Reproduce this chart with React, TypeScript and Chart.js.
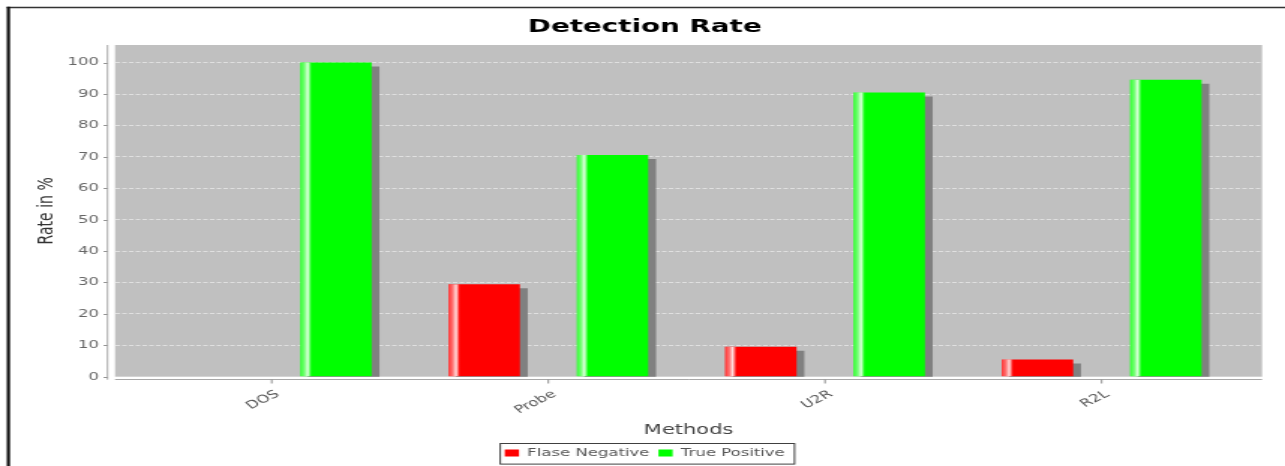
import React, { useEffect, useRef } from "react";
import { Chart, registerables } from "chart.js";

Chart.register(...registerables);

// ---- data ----
const categories = ["DOS", "Probe", "U2R", "R2L"];
const falseNegative = [0, 29.4, 9.5, 5.5];
const truePositive = [100, 70.6, 90.5, 94.5];
const yTicks = [0, 10, 20, 30, 40, 50, 60, 70, 80, 90, 100];
const seriesNames = ["Flase Negative", "True Positive"];
const seriesColors = ["#ff0000", "#00ff00"];

// ---- geometry (internal canvas px; canvas is stretched horizontally on screen) ----
const SCREEN_W = 1285;
const W = 857;
const H = 466;
const FONT = "DejaVu Sans";

const decorPlugin = {
  id: "decor",
  beforeDraw(chart: any) {
    const { ctx, chartArea: a } = chart;
    ctx.save();
    ctx.fillStyle = "#c0c0c0";
    ctx.fillRect(a.left, a.top, a.right - a.left, a.bottom - a.top);
    ctx.restore();
  },
  beforeDatasetDraw(chart: any) {
    const ctx = chart.ctx;
    ctx.save();
    ctx.shadowColor = "#808080";
    ctx.shadowOffsetX = 5.2;
    ctx.shadowOffsetY = 4;
    ctx.shadowBlur = 0;
  },
  afterDatasetDraw(chart: any, args: any) {
    const ctx = chart.ctx;
    ctx.restore();
    const a = chart.chartArea;
    ctx.save();
    ctx.beginPath();
    ctx.rect(a.left, a.top, a.right - a.left, a.bottom - a.top);
    ctx.clip();
    for (const el of args.meta.data) {
      const p = el.getProps(["x", "y", "base", "width"], true);
      const top = Math.min(p.y, p.base);
      const h = Math.abs(p.base - p.y);
      if (h < 0.5) continue;
      const left = p.x - p.width / 2;
      const sw = p.width * 0.2;
      const g = ctx.createLinearGradient(left, 0, left + sw, 0);
      g.addColorStop(0, "rgba(255,255,255,0.2)");
      g.addColorStop(0.3, "rgba(255,255,255,0.45)");
      g.addColorStop(0.53, "rgba(255,255,255,0.88)");
      g.addColorStop(0.8, "rgba(255,255,255,0)");
      g.addColorStop(1, "rgba(255,255,255,0)");
      ctx.fillStyle = g;
      ctx.fillRect(left, top, sw, h);
    }
    ctx.restore();
  },
  afterDraw(chart: any) {
    const { ctx, chartArea: a } = chart;
    const yScale = chart.scales.y;
    const xScale = chart.scales.x;
    ctx.save();
    // axis lines
    ctx.strokeStyle = "#a8a8a8";
    ctx.lineWidth = 1;
    const axX = 71.7;
    const axY = 379.5;
    ctx.beginPath();
    ctx.moveTo(axX, a.top);
    ctx.lineTo(axX, a.bottom + 3);
    ctx.moveTo(a.left, axY);
    ctx.lineTo(a.right, axY);
    ctx.stroke();
    // y tick marks
    ctx.strokeStyle = "#909090";
    ctx.beginPath();
    for (const v of yTicks) {
      const py = Math.round(yScale.getPixelForValue(v)) + 0.5;
      ctx.moveTo(axX - 2.6, py);
      ctx.lineTo(axX, py);
    }
    // x tick marks
    categories.forEach((_, i) => {
      const px = xScale.getPixelForValue(i);
      ctx.moveTo(px, axY);
      ctx.lineTo(px, axY + 4);
    });
    ctx.stroke();

    // legend border
    const hb = chart.legend && chart.legend.legendHitBoxes;
    if (hb && hb.length) {
      let l = Infinity, r = -Infinity, t = Infinity, b = -Infinity;
      for (const h of hb) {
        l = Math.min(l, h.left);
        r = Math.max(r, h.left + h.width);
        t = Math.min(t, h.top);
        b = Math.max(b, h.top + h.height);
      }
      const cy = (t + b) / 2;
      ctx.strokeStyle = "#404040";
      ctx.lineWidth = 1;
      ctx.strokeRect(l - 3, Math.round(cy - 10.3) + 0.5, r - l + 9.5, 20.6);
    }

    // outer frame (top and left)
    ctx.strokeStyle = "#333333";
    ctx.lineWidth = 1.5;
    ctx.beginPath();
    ctx.moveTo(4.5, 7.5);
    ctx.lineTo(W, 7.5);
    ctx.stroke();
    ctx.strokeStyle = "#111111";
    ctx.lineWidth = 2.2;
    ctx.beginPath();
    ctx.moveTo(5.6, 6.8);
    ctx.lineTo(5.6, H);
    ctx.stroke();
    ctx.restore();
  },
};

export default function App() {
  const ref = useRef<HTMLCanvasElement>(null);

  useEffect(() => {
    const canvas = ref.current;
    if (!canvas) return;
    const chart = new Chart(canvas, {
      type: "bar",
      data: {
        datasets: [
          {
            label: seriesNames[0],
            data: falseNegative.map((v, i) => ({ x: i, y: v })),
            backgroundColor: seriesColors[0],
            borderWidth: 0,
            xAxisID: "x",
            yAxisID: "y",
          },
          {
            label: seriesNames[1],
            data: truePositive.map((v, i) => ({ x: i, y: v })),
            backgroundColor: seriesColors[1],
            borderWidth: 0,
            xAxisID: "x",
            yAxisID: "y",
          },
        ],
      },
      options: {
        responsive: false,
        animation: false,
        devicePixelRatio: 1,
        categoryPercentage: 0.928,
        barPercentage: 0.557,
        layout: { padding: { left: 3, right: 0, top: 0, bottom: -2.5 } },
        plugins: {
          tooltip: { enabled: false },
          title: {
            display: true,
            text: "Detection Rate",
            color: "#000000",
            font: { family: FONT, size: 18.5, weight: "bold" },
            padding: { top: 15.6, bottom: 7.2 },
          },
          legend: {
            display: true,
            position: "bottom",
            labels: {
              boxWidth: 9.5,
              boxHeight: 7,
              padding: 6,
              color: "#555555",
              font: { family: FONT, size: 11 },
            },
          },
        },
        scales: {
          x: {
            type: "linear",
            position: "bottom",
            offset: false,
            min: -0.5664,
            max: 3.58,
            afterBuildTicks: (s: any) => {
              s.ticks = categories.map((_, i) => ({ value: i }));
            },
            afterFit: (s: any) => {
              s.height = 64.8;
            },
            ticks: {
              autoSkip: false,
              minRotation: 36,
              maxRotation: 36,
              padding: 11,
              labelOffset: 4,
              color: "#555555",
              font: { family: FONT, size: 11 },
              callback: (_v: any, i: number) => categories[i],
            },
            grid: { display: false, drawTicks: false, tickLength: 0, offset: false },
            border: { display: false },
            title: {
              display: true,
              text: "Methods",
              color: "#444444",
              font: { family: FONT, size: 14 },
              padding: { top: 0, bottom: 2.6 },
            },
          },
          y: {
            type: "linear",
            position: "left",
            min: 0,
            max: 105.6,
            afterBuildTicks: (s: any) => {
              s.ticks = yTicks.map((v) => ({ value: v }));
            },
            afterFit: (s: any) => {
              s.width = 73.7;
            },
            ticks: {
              padding: 10.7,
              color: "#666666",
              font: { family: FONT, size: 11 },
              callback: (v: any) => String(v),
            },
            grid: {
              color: (c: any) => (c.tick && c.tick.value === 0 ? "rgba(0,0,0,0)" : "rgba(255,255,255,0.5)"),
              lineWidth: 1,
              drawTicks: false,
              tickLength: 0,
            },
            border: { display: false, dash: [3, 1.5] },
            title: {
              display: true,
              text: "Rate in %",
              color: "#333333",
              font: { family: FONT, size: 14 },
              padding: { top: 19.5, bottom: 0 },
            },
          },
          yR: {
            type: "linear",
            position: "right",
            display: true,
            afterFit: (s: any) => {
              s.width = 15.3;
            },
            ticks: { display: false },
            grid: { display: false, drawTicks: false },
            border: { display: false },
          },
        },
      },
      plugins: [decorPlugin],
    } as any);
    return () => chart.destroy();
  }, []);

  return (
    <div style={{ position: "absolute", left: 0, top: 0, width: SCREEN_W, height: H, background: "#ffffff" }}>
      <canvas
        ref={ref}
        width={W}
        height={H}
        style={{ display: "block", width: SCREEN_W + "px", height: H + "px" }}
      />
    </div>
  );
}
